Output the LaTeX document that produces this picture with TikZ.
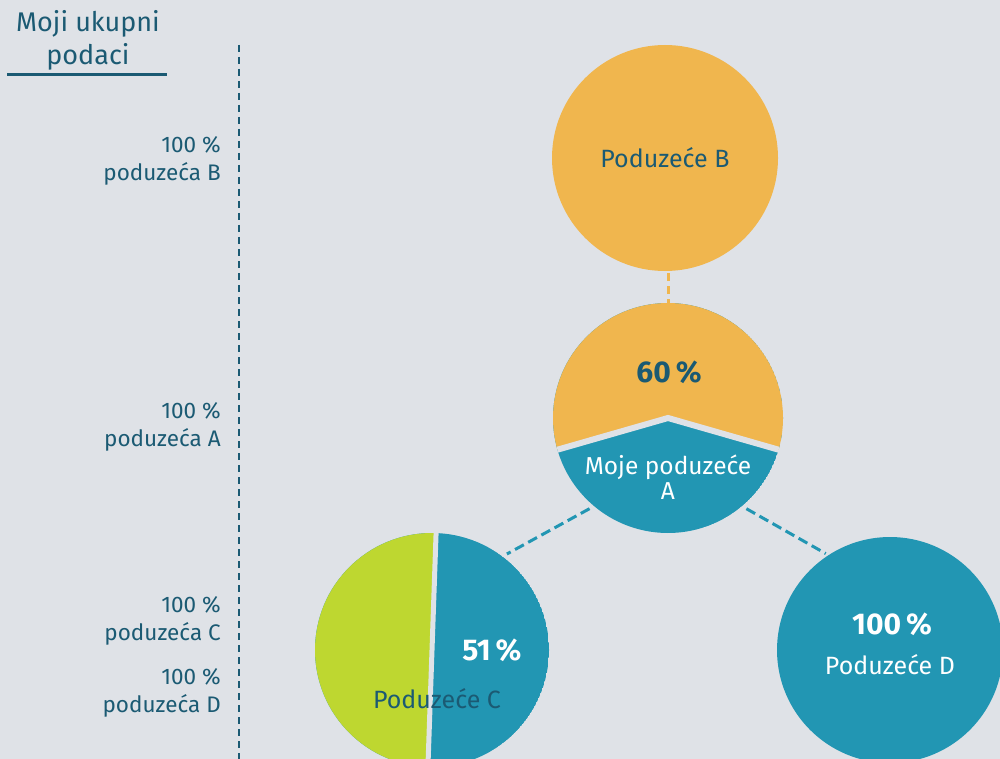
\documentclass[tikz,border=0pt]{standalone}
\usepackage{fontspec}
\setmainfont{Fira Sans}
\usetikzlibrary{calc}

\definecolor{bgc}{HTML}{DFE2E7}
\definecolor{orangec}{HTML}{F0B64E}
\definecolor{tealc}{HTML}{2296B3}
\definecolor{greenc}{HTML}{BED730}
\definecolor{darkc}{HTML}{1B5A73}

\begin{document}
\begin{tikzpicture}[x=1pt,y=-1pt,
  firm/.style={circle,inner sep=0pt,minimum size=#1},
  conn/.style={dash pattern=on 10pt off 5pt,line width=3pt},
  lbl/.style={align=right,anchor=east,inner sep=0pt,text=darkc,font=\fontsize{22.5}{28.5}\selectfont},
  txt/.style={font=\fontsize{25}{25}\selectfont},
  pct/.style={font=\fontsize{30}{30}\selectfont\bfseries}]

\fill[bgc] (0,0) rectangle (1000,759);
\useasboundingbox (0,0) rectangle (1000,759);

% heading and the scale on the left
\node[text=darkc,align=center,font=\fontsize{27}{33}\selectfont] (head) at (88,40) {Moji ukupni\\podaci};
\draw[darkc,line width=3pt] (7,75) -- (167,75);

\coordinate (top) at (239,45);
\coordinate (bot) at (239,759);
\draw[darkc,line width=2pt,dash pattern=on 7pt off 5pt] (top) -- (bot);

\node[lbl] (lB) at (221,161) {100 \%\\poduzeća B};
\node[lbl] (lA) at (221,427) {100 \%\\poduzeća A};
\node[lbl] (lC) at (221,621) {100 \%\\poduzeća C};
\node[lbl] (lD) at (221,693) {100 \%\\poduzeća D};

% firms
\node[firm=226pt,fill=orangec,text=darkc,txt] (B) at (665,158) {Poduzeće B};

\node[firm=230pt] (A) at (668,418) {};
\begin{scope}
  \clip (A.center) circle[radius=115];
  \fill[tealc] (A.center) circle[radius=115];
  \fill[orangec] (A.196) -- (A.center) -- (A.344) -- (800,452) -- (800,290) -- (540,290) -- (540,452) -- cycle;
  \draw[bgc,line width=6pt] ($(A.center)!1.1!(A.196)$) -- (A.center) -- ($(A.center)!1.1!(A.344)$);
\end{scope}
\node[pct,text=darkc] (pA) at (669,372) {60\,\%};
\node[text=white,align=center,font=\fontsize{24.5}{25}\selectfont] (nA) at (668,477) {Moje poduzeće\\A};

\node[firm=234pt] (C) at (432,650) {};
\begin{scope}
  \clip (C.center) circle[radius=117];
  \fill[tealc] (C.center) circle[radius=117];
  \fill[greenc] (C.88) -- (C.268) -- (300,780) -- (300,520) -- cycle;
  \draw[bgc,line width=5pt] ($(C.center)!1.1!(C.88)$) -- ($(C.center)!1.1!(C.268)$);
\end{scope}
\node[pct,text=white] (pC) at (492,650) {51\,\%};
\node[txt,text=darkc] (nC) at (437,699) {Poduzeće C};

\node[firm=226pt,fill=tealc] (D) at (890,650) {};
\node[pct,text=white] (pD) at (892,624) {100\,\%};
\node[txt,text=white] (nD) at (890,665) {Poduzeće D};

% links
\draw[conn,orangec,dash pattern=on 8pt off 5pt,shorten <=2pt] (A.north |- B.south) -- (A.north);
\draw[conn,tealc,shorten <=5pt,shorten >=5pt] (A.230) -- (C.53);
\draw[conn,tealc,shorten <=5pt,shorten >=3pt] (A.310) -- (D.123);

\end{tikzpicture}
\end{document}
